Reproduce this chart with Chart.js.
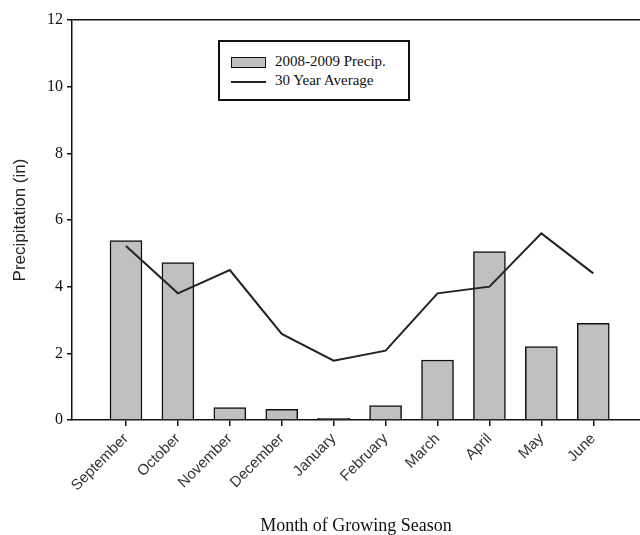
<!DOCTYPE html>
<html>
<head>
<meta charset="utf-8">
<script src="https://cdn.jsdelivr.net/npm/chart.js@4"></script>
<style>
  body { margin: 0; background: #fff; }
  #wrap { position: relative; width: 640px; height: 535px; }
  #legendBox {
    position: absolute; left: 218px; top: 40px; width: 188px; height: 57px;
    border: 2px solid #111; background: #fff;
    font-family: "Liberation Serif", "DejaVu Serif", serif; font-size: 15px; color: #111;
  }
  .row { position: absolute; left: 11px; height: 18px; line-height: 18px; white-space: nowrap; }
  .sw { display: inline-block; vertical-align: middle; width: 33px; margin-right: 9px; }
  .sw.bar { height: 9px; background: #c0c0c0; border: 1.5px solid #111; }
  .sw.line { height: 0; border-top: 2px solid #222; width: 35px; }
</style>
</head>
<body>
<div id="wrap">
  <canvas id="chart" width="640" height="535"></canvas>
  <div id="legendBox">
    <div class="row" style="top:10px"><span class="sw bar"></span>2008-2009 Precip.</div>
    <div class="row" style="top:29px"><span class="sw line"></span>30 Year Average</div>
  </div>
</div>
<script>
// data
const months = ['September', 'October', 'November', 'December', 'January',
                'February', 'March', 'April', 'May', 'June'];
const precip0809 = [5.38, 4.72, 0.37, 0.32, 0.05, 0.43, 1.8, 5.05, 2.2, 2.9];
const avg30yr = [5.22, 3.8, 4.5, 2.58, 1.78, 2.08, 3.8, 4.0, 5.6, 4.4];
const yTicks = [0, 2, 4, 6, 8, 10, 12];

const serif = '"Liberation Serif", "DejaVu Serif", serif';
const sans = '"Liberation Sans", Arial, sans-serif';

const ctx = document.getElementById('chart').getContext('2d');

new Chart(ctx, {
  type: 'bar',
  data: {
    datasets: [
      {
        type: 'line',
        label: '30 Year Average',
        data: months.map((m, i) => ({ x: i, y: avg30yr[i] })),
        borderColor: '#222',
        borderWidth: 2,
        pointRadius: 0,
        tension: 0,
        order: 0
      },
      {
        type: 'bar',
        label: '2008-2009 Precip.',
        data: months.map((m, i) => ({ x: i, y: precip0809[i] })),
        backgroundColor: '#c0c0c0',
        borderColor: '#111',
        borderWidth: 1.5,
        barThickness: 32,
        order: 1
      }
    ]
  },
  options: {
    responsive: false,
    animation: false,
    layout: { padding: { top: 20, left: 0, right: 0, bottom: 0 } },
    plugins: {
      legend: { display: false },
      tooltip: { enabled: false }
    },
    scales: {
      x: {
        type: 'linear',
        min: -1.04,
        max: 9.9,
        offset: false,
        afterBuildTicks: (scale) => {
          scale.ticks = months.map((m, i) => ({ value: i }));
        },
        afterFit: (scale) => { scale.height = 115; },
        grid: { offset: false, drawOnChartArea: false, tickLength: 6, tickColor: '#111', lineWidth: 1.5 },
        border: { color: '#111', width: 1.5 },
        ticks: {
          autoSkip: false,
          minRotation: 45,
          maxRotation: 45,
          padding: 4,
          color: '#333',
          font: { family: sans, size: 15 },
          callback: (v) => months[v]
        },
        title: {
          display: true,
          text: 'Month of Growing Season',
          color: '#111',
          font: { family: serif, size: 18, lineHeight: 1 },
          padding: { top: 0, bottom: 0 }
        }
      },
      y: {
        min: 0,
        max: 12,
        afterBuildTicks: (scale) => {
          scale.ticks = yTicks.map(v => ({ value: v }));
        },
        afterFit: (scale) => { scale.width = 72; },
        grid: {
          color: (c) => (c.tick && c.tick.value === 12 ? '#111' : 'rgba(0,0,0,0)'),
          tickColor: '#111',
          tickLength: 5,
          lineWidth: 1.5
        },
        border: { color: '#111', width: 1.5 },
        ticks: {
          padding: 4,
          color: '#111',
          font: { family: serif, size: 16 }
        },
        title: {
          display: true,
          text: 'Precipitation (in)',
          color: '#222',
          font: { family: sans, size: 17 },
          padding: { top: 10 }
        }
      }
    }
  }
});
</script>
</body>
</html>
